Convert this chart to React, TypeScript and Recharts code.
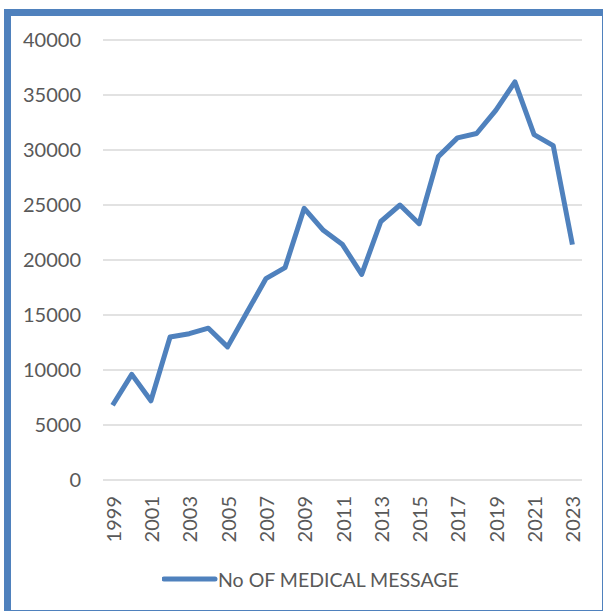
import React from "react";
import { LineChart, Line, XAxis, YAxis, CartesianGrid, Legend } from "recharts";

const years = [
  "1999", "2000", "2001", "2002", "2003", "2004", "2005", "2006", "2007", "2008",
  "2009", "2010", "2011", "2012", "2013", "2014", "2015", "2016", "2017", "2018",
  "2019", "2020", "2021", "2022", "2023",
];
const medicalMessages = [
  6800, 9600, 7200, 13000, 13300, 13800, 12100, 15200, 18300, 19300,
  24700, 22700, 21400, 18700, 23500, 25000, 23300, 29400, 31100, 31500,
  33600, 36200, 31400, 30400, 21400,
];
const yTicks = [0, 5000, 10000, 15000, 20000, 25000, 30000, 35000, 40000];
const seriesName = "No OF MEDICAL MESSAGE";

const data = years.map((y, i) => ({ year: y, value: medicalMessages[i] }));

const BLUE = "#4F81BD";
const TEXT = "#595959";
const FONT = "Lato, 'Open Sans', sans-serif";

const XTick = (props: any) => {
  const { x, y, payload } = props;
  return (
    <text
      x={x}
      y={y}
      transform={`rotate(-90, ${x}, ${y})`}
      textAnchor="end"
      dominantBaseline="central"
      fill={TEXT}
      fontSize={20}
      fontFamily={FONT}
    >
      {payload.value}
    </text>
  );
};

const LegendContent = () => (
  <div style={{ display: "flex", alignItems: "center", height: 30, fontFamily: FONT, fontSize: 19.5, color: TEXT }}>
    <svg width={56} height={30} style={{ display: "block" }}>
      <line x1={2} y1={15} x2={53} y2={15} stroke={BLUE} strokeWidth={5} strokeLinecap="round" />
    </svg>
    <span style={{ whiteSpace: "nowrap" }}>{seriesName}</span>
  </div>
);

export default function App() {
  return (
    <div style={{ position: "fixed", left: 0, top: 0, width: 606, height: 612, background: "#fff" }}>
      <div
        style={{
          position: "absolute",
          left: 4,
          top: 9,
          width: 591,
          height: 594,
          borderLeft: `7px solid ${BLUE}`,
          borderTop: `7px solid ${BLUE}`,
          borderRight: `1px solid ${BLUE}`,
          borderBottom: `1px solid ${BLUE}`,
        }}
      />
      <div style={{ position: "absolute", left: 0, top: 0 }}>
        <LineChart width={606} height={612} data={data} margin={{ top: 40, right: 24, left: 0, bottom: 18 }}>
          <CartesianGrid vertical={false} stroke="#d9d9d9" strokeWidth={1.3} />
          <XAxis
            dataKey="year"
            interval={1}
            axisLine={false}
            tickLine={false}
            tickSize={0}
            tickMargin={16}
            height={84}
            padding={{ left: 9.6, right: 9.6 }}
            tick={<XTick />}
          />
          <YAxis
            width={103}
            domain={[0, 40000]}
            ticks={yTicks}
            axisLine={false}
            tickLine={false}
            tickSize={0}
            tickMargin={22}
            tick={{ fill: TEXT, fontSize: 20, fontFamily: FONT }}
          />
          <Legend
            verticalAlign="bottom"
            content={<LegendContent />}
            wrapperStyle={{ left: 162, width: 330, height: 30 }}
          />
          <Line
            type="linear"
            dataKey="value"
            name={seriesName}
            stroke={BLUE}
            strokeWidth={5}
            strokeLinejoin="round"
            dot={false}
            activeDot={false}
            isAnimationActive={false}
          />
        </LineChart>
      </div>
    </div>
  );
}
